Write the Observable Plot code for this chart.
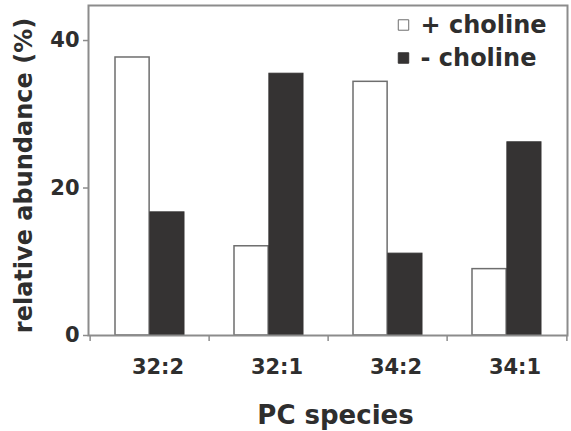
<!DOCTYPE html>
<html><head><meta charset="utf-8">
<script src="https://cdn.jsdelivr.net/npm/d3@7"></script>
<script src="https://cdn.jsdelivr.net/npm/@observablehq/plot@0.6"></script>
<style>
html,body{margin:0;padding:0;background:#fff;}
</style></head><body><div id="chart"></div>
<script>
const species = ["32:2", "32:1", "34:2", "34:1"];
const withCholine = [37.7, 12.1, 34.4, 9.0];
const withoutCholine = [16.7, 35.5, 11.1, 26.2];
const seriesNames = ["+ choline", "- choline"];
const yTicks = [0, 20, 40];
const xTitle = "PC species";
const yTitle = "relative abundance (%)";

const W = 571, H = 431, ML = 88, MR = 4, MT = 5, MB = 96;
const band = (W - ML - MR) / species.length;
const pad = 25, barW = (band - 2 * pad) / 2;
const font = "'DejaVu Sans', sans-serif";
const ink = "#2e2e2e", lineGray = "#8c8c8c", dark = "#353333", edge = "#6e6e6e";
const fills = ["#ffffff", dark], strokes = [edge, dark];

const plus = species.map((s, i) => ({species: s, value: withCholine[i]}));
const minus = species.map((s, i) => ({species: s, value: withoutCholine[i]}));

const legendMarks = seriesNames.flatMap((name, i) => [
  Plot.dot([name], {frameAnchor: "top-right", dx: -164, dy: 19.5 + 33 * i, symbol: "square", r: 5.9,
    fill: fills[i], stroke: strokes[i], strokeWidth: 1}),
  Plot.text([name], {frameAnchor: "top-right", dx: -147, dy: 19.5 + 33 * i, text: d => d,
    textAnchor: "start", lineAnchor: "middle", fontSize: 24, fontWeight: "bold", fill: ink})
]);

const plot = Plot.plot({
  width: W, height: H,
  marginLeft: ML, marginRight: MR, marginTop: MT, marginBottom: MB,
  style: {fontFamily: font, background: "#fff", color: ink},
  x: {domain: species, padding: 0, axis: null},
  y: {domain: [0, 44.75], axis: null},
  marks: [
    Plot.barY(plus, {x: "species", y: "value", fill: fills[0], stroke: edge, strokeWidth: 1.5,
      insetLeft: pad, insetRight: band - pad - barW}),
    Plot.barY(minus, {x: "species", y: "value", fill: dark, stroke: dark, strokeWidth: 1,
      insetLeft: pad + barW, insetRight: pad}),
    Plot.frame({stroke: lineGray, strokeWidth: 2}),
    Plot.axisY({ticks: yTicks, tickSize: 5, tickPadding: 4, stroke: lineGray, strokeWidth: 1.5, fill: ink,
      fontSize: 21, fontWeight: "bold", label: null}),
    Plot.axisX({tickSize: 0, tickPadding: 24, dx: 8, fontSize: 21, fontWeight: "bold", fill: ink, label: null}),
    Plot.axisX({tickSize: 6, tickFormat: () => "", dx: -band / 2, stroke: lineGray, strokeWidth: 1.5, label: null}),
    Plot.axisX({ticks: species.slice(-1), tickSize: 6, tickFormat: () => "", dx: band / 2, stroke: lineGray, strokeWidth: 1.5, label: null}),
    Plot.text([yTitle], {frameAnchor: "left", text: d => d, rotate: -90, dx: -64, dy: 5,
      textAnchor: "middle", lineAnchor: "middle", fontSize: 24, fontWeight: "bold", fill: ink}),
    Plot.text([xTitle], {frameAnchor: "bottom", text: d => d, dx: 7.5, dy: 79.7,
      textAnchor: "middle", lineAnchor: "middle", fontSize: 26, fontWeight: "bold", fill: ink}),
    ...legendMarks
  ]
});
document.getElementById("chart").appendChild(plot);
</script></body></html>
